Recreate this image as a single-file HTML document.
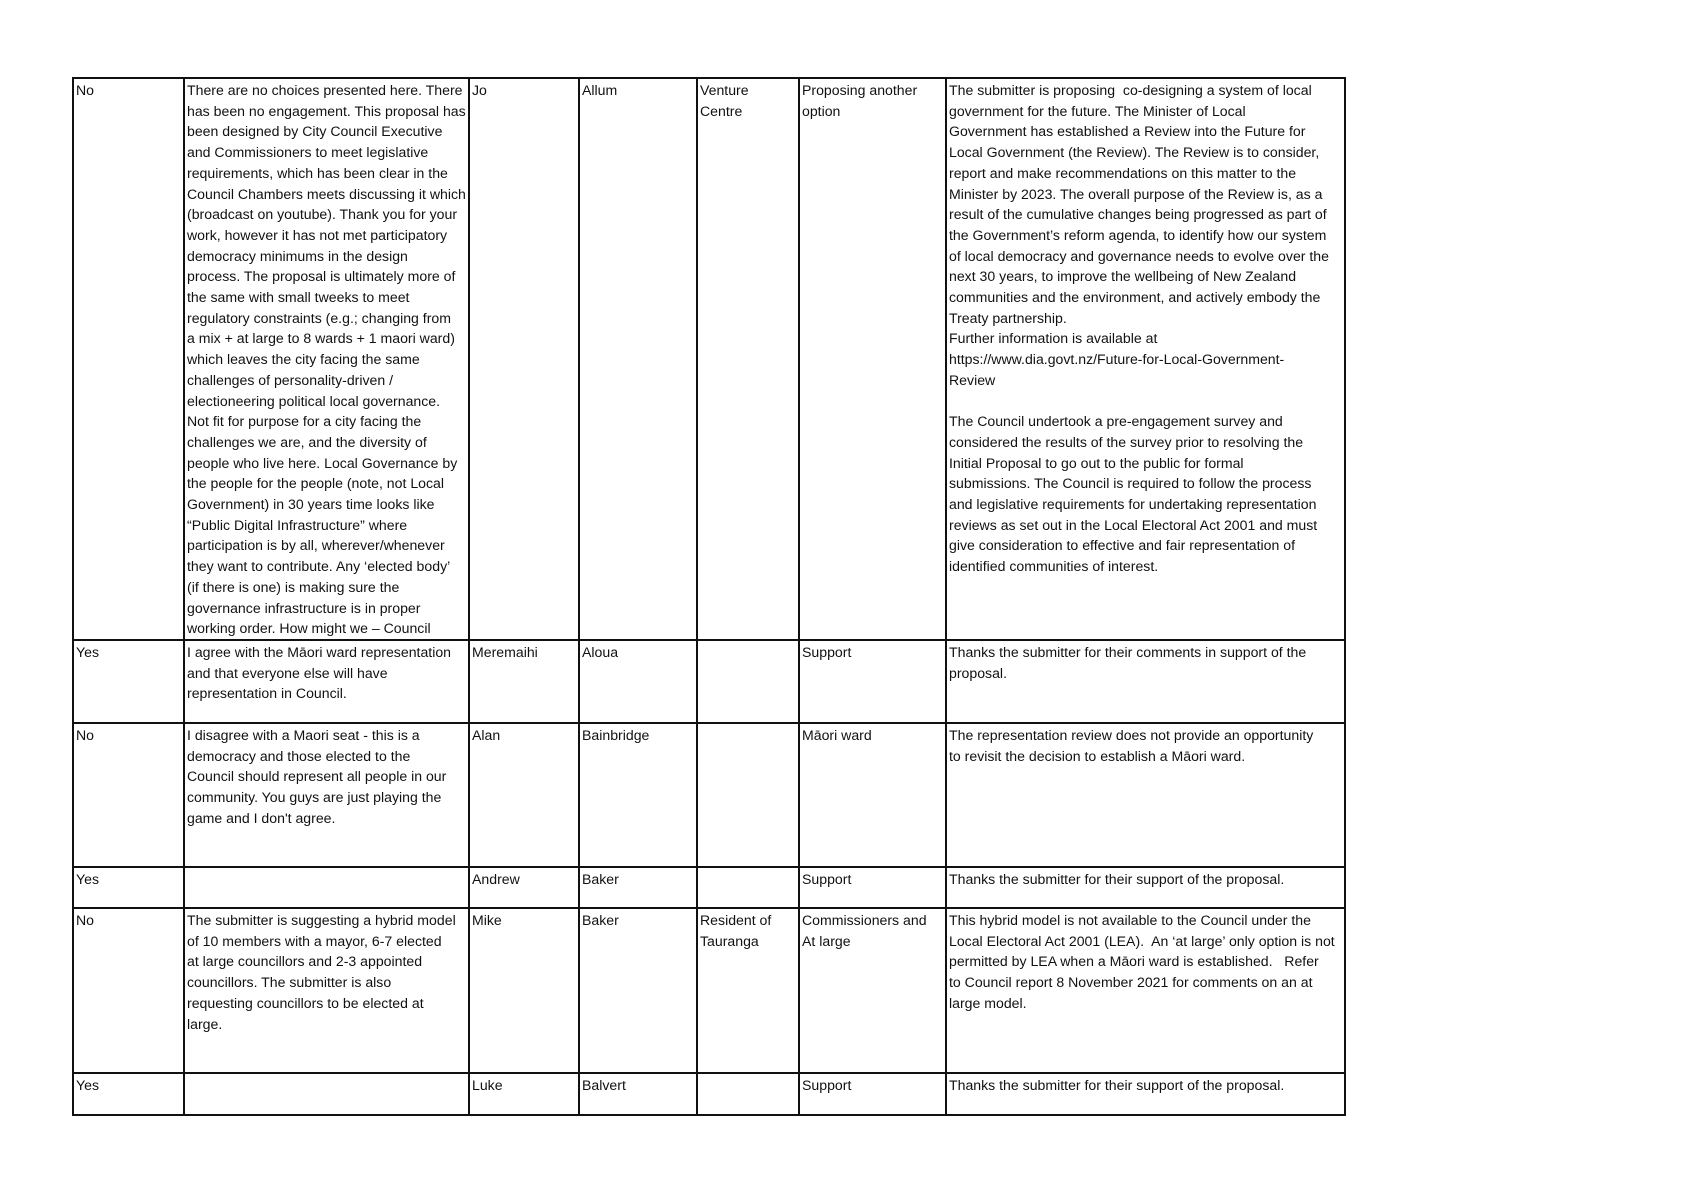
<!DOCTYPE html>
<html><head><meta charset="utf-8"><style>
html,body{margin:0;padding:0;background:#fff;width:1689px;height:1194px;overflow:hidden}
table{position:absolute;left:72px;top:77px;border-collapse:collapse;table-layout:fixed;font-family:"Liberation Sans",sans-serif;font-size:14.1px;line-height:20.7px;color:#111}
td{border:2px solid #111;vertical-align:top;padding:1px 2px 0 2px;white-space:nowrap;overflow:hidden}
</style></head><body>
<table>
<colgroup><col style="width:111px"><col style="width:285px"><col style="width:110px"><col style="width:118px"><col style="width:102px"><col style="width:147px"><col style="width:399px"></colgroup>
<tr style="height:562px"><td>No</td><td>There are no choices presented here. There<br>has been no engagement. This proposal has<br>been designed by City Council Executive<br>and Commissioners to meet legislative<br>requirements, which has been clear in the<br>Council Chambers meets discussing it which<br>(broadcast on youtube). Thank you for your<br>work, however it has not met participatory<br>democracy minimums in the design<br>process. The proposal is ultimately more of<br>the same with small tweeks to meet<br>regulatory constraints (e.g.; changing from<br>a mix + at large to 8 wards + 1 maori ward)<br>which leaves the city facing the same<br>challenges of personality-driven /<br>electioneering political local governance.<br>Not fit for purpose for a city facing the<br>challenges we are, and the diversity of<br>people who live here. Local Governance by<br>the people for the people (note, not Local<br>Government) in 30 years time looks like<br>“Public Digital Infrastructure” where<br>participation is by all, wherever/whenever<br>they want to contribute. Any ‘elected body’<br>(if there is one) is making sure the<br>governance infrastructure is in proper<br>working order. How might we – Council</td><td>Jo</td><td>Allum</td><td>Venture<br>Centre</td><td>Proposing another<br>option</td><td>The submitter is proposing&nbsp; co-designing a system of local<br>government for the future. The Minister of Local<br>Government has established a Review into the Future for<br>Local Government (the Review). The Review is to consider,<br>report and make recommendations on this matter to the<br>Minister by 2023. The overall purpose of the Review is, as a<br>result of the cumulative changes being progressed as part of<br>the Government’s reform agenda, to identify how our system<br>of local democracy and governance needs to evolve over the<br>next 30 years, to improve the wellbeing of New Zealand<br>communities and the environment, and actively embody the<br>Treaty partnership.<br>Further information is available at<br>https://www.dia.govt.nz/Future-for-Local-Government-<br>Review<br><br>The Council undertook a pre-engagement survey and<br>considered the results of the survey prior to resolving the<br>Initial Proposal to go out to the public for formal<br>submissions. The Council is required to follow the process<br>and legislative requirements for undertaking representation<br>reviews as set out in the Local Electoral Act 2001 and must<br>give consideration to effective and fair representation of<br>identified communities of interest.</td></tr>
<tr style="height:83px"><td>Yes</td><td>I agree with the Māori ward representation<br>and that everyone else will have<br>representation in Council.</td><td>Meremaihi</td><td>Aloua</td><td></td><td>Support</td><td>Thanks the submitter for their comments in support of the<br>proposal.</td></tr>
<tr style="height:144px"><td>No</td><td>I disagree with a Maori seat - this is a<br>democracy and those elected to the<br>Council should represent all people in our<br>community. You guys are just playing the<br>game and I don't agree.</td><td>Alan</td><td>Bainbridge</td><td></td><td>Māori ward</td><td>The representation review does not provide an opportunity<br>to revisit the decision to establish a Māori ward.</td></tr>
<tr style="height:41px"><td>Yes</td><td></td><td>Andrew</td><td>Baker</td><td></td><td>Support</td><td>Thanks the submitter for their support of the proposal.</td></tr>
<tr style="height:165px"><td>No</td><td>The submitter is suggesting a hybrid model<br>of 10 members with a mayor, 6-7 elected<br>at large councillors and 2-3 appointed<br>councillors. The submitter is also<br>requesting councillors to be elected at<br>large.</td><td>Mike</td><td>Baker</td><td>Resident of<br>Tauranga</td><td>Commissioners and<br>At large</td><td>This hybrid model is not available to the Council under the<br>Local Electoral Act 2001 (LEA).&nbsp; An ‘at large’ only option is not<br>permitted by LEA when a Māori ward is established.&nbsp;&nbsp; Refer<br>to Council report 8 November 2021 for comments on an at<br>large model.</td></tr>
<tr style="height:42px"><td>Yes</td><td></td><td>Luke</td><td>Balvert</td><td></td><td>Support</td><td>Thanks the submitter for their support of the proposal.</td></tr>
</table>
</body></html>
